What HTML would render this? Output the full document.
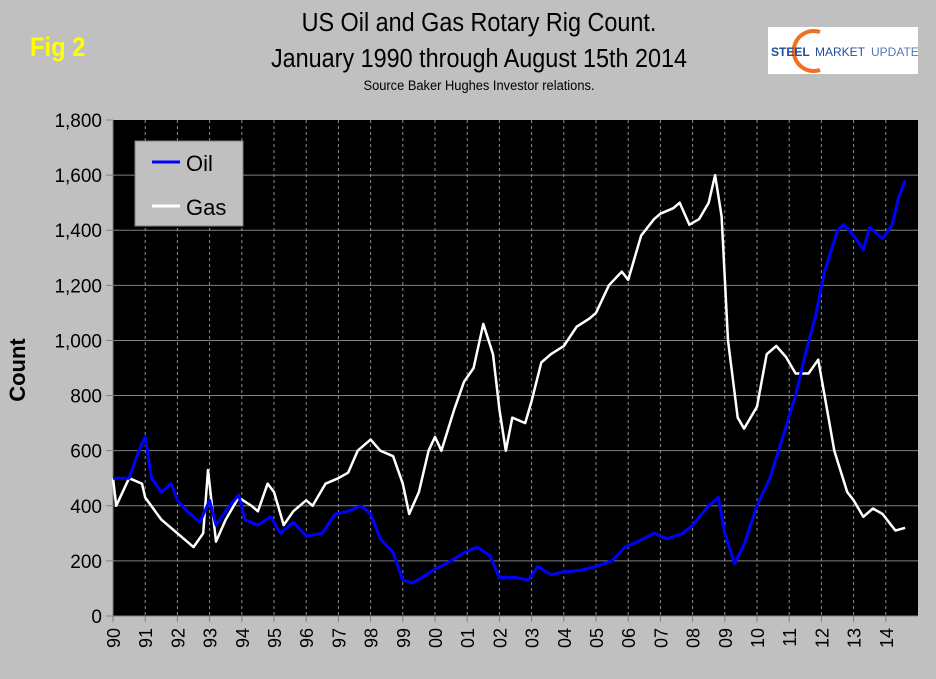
<!DOCTYPE html>
<html><head><meta charset="utf-8"><style>
body{margin:0;background:#c0c0c0;}
svg text{font-family:"Liberation Sans",Arial,sans-serif;}
</style></head><body>
<svg width="936" height="674" viewBox="0 0 936 674">
<rect x="0" y="0" width="936" height="674" fill="#c0c0c0"/>
<text x="30" y="56" font-size="27" font-weight="bold" fill="#ffff00" transform="translate(30,0) scale(0.88,1) translate(-30,0)">Fig 2</text>
<text x="479" y="31" font-size="26" text-anchor="middle" fill="#000" transform="translate(479,0) scale(0.9,1) translate(-479,0)">US Oil and Gas Rotary Rig Count.</text>
<text x="479" y="67" font-size="26" text-anchor="middle" fill="#000" transform="translate(479,0) scale(0.9,1) translate(-479,0)">January 1990 through August 15th 2014</text>
<text x="479" y="90" font-size="14" text-anchor="middle" fill="#000" transform="translate(479,0) scale(0.92,1) translate(-479,0)">Source Baker Hughes Investor relations.</text>
<g>
<rect x="768" y="27" width="150" height="47" fill="#fff"/>
<path d="M820 32 A20 20 0 1 0 820 70" fill="none" stroke="#f07020" stroke-width="4"/>
<text x="771" y="56" font-size="12" font-weight="bold" fill="#1f4e9a">STEEL</text>
<text x="815" y="56" font-size="12" fill="#1f4e9a">MARKET</text>
<text x="871" y="56" font-size="12" fill="#5577bb">UPDATE</text>
</g>
<rect x="113" y="120" width="805" height="496" fill="#000"/>
<g id="grid"></g>
<g id="axes"></g>
<text x="0" y="0" font-size="22" font-weight="bold" fill="#000" text-anchor="middle" transform="translate(25,370) rotate(-90)">Count</text>
<g id="series"></g>
<g>
<rect x="135" y="141" width="108" height="85" fill="#c0c0c0" stroke="#808080"/>
<line x1="152" y1="162" x2="180" y2="162" stroke="#0000ff" stroke-width="3"/>
<text x="186" y="171" font-size="22" fill="#000">Oil</text>
<line x1="152" y1="206" x2="180" y2="206" stroke="#fff" stroke-width="3"/>
<text x="186" y="215" font-size="22" fill="#000">Gas</text>
</g>
</svg>
<script>
const yTicks=[0,200,400,600,800,1000,1200,1400,1600,1800];
const yTickLabels=["0","200","400","600","800","1,000","1,200","1,400","1,600","1,800"];
const xYearLabels=["90","91","92","93","94","95","96","97","98","99","00","01","02","03","04","05","06","07","08","09","10","11","12","13","14"];
const gasDates=[1990.0,1990.1,1990.5,1990.9,1991.0,1991.5,1992.0,1992.5,1992.8,1992.95,1993.2,1993.5,1993.9,1994.3,1994.5,1994.8,1995.0,1995.3,1995.6,1996.0,1996.2,1996.6,1997.0,1997.3,1997.6,1998.0,1998.3,1998.7,1999.0,1999.2,1999.5,1999.8,2000.0,2000.2,2000.6,2000.9,2001.2,2001.5,2001.8,2002.0,2002.2,2002.4,2002.8,2003.0,2003.3,2003.6,2004.0,2004.4,2004.8,2005.0,2005.4,2005.8,2006.0,2006.4,2006.8,2007.0,2007.4,2007.6,2007.9,2008.2,2008.5,2008.7,2008.9,2009.1,2009.4,2009.6,2010.0,2010.3,2010.6,2010.9,2011.2,2011.6,2011.9,2012.1,2012.4,2012.8,2013.0,2013.3,2013.6,2013.9,2014.1,2014.3,2014.6];
const gasValues=[500,400,500,480,430,350,300,250,300,530,270,350,430,400,380,480,450,330,380,420,400,480,500,520,600,640,600,580,480,370,450,600,650,600,750,850,900,1060,950,750,600,720,700,780,920,950,980,1050,1080,1100,1200,1250,1220,1380,1440,1460,1480,1500,1420,1440,1500,1600,1450,1000,720,680,760,950,980,940,880,880,930,800,600,450,420,360,390,370,340,310,320];
const oilDates=[1990.0,1990.5,1990.8,1991.0,1991.2,1991.5,1991.8,1992.0,1992.3,1992.7,1993.0,1993.2,1993.5,1993.9,1994.1,1994.5,1994.9,1995.2,1995.6,1996.0,1996.5,1996.9,1997.3,1997.7,1998.0,1998.3,1998.7,1999.0,1999.3,1999.6,2000.0,2000.5,2000.9,2001.3,2001.7,2002.0,2002.5,2002.9,2003.2,2003.6,2004.0,2004.5,2005.0,2005.5,2005.9,2006.3,2006.8,2007.2,2007.7,2008.0,2008.5,2008.8,2009.0,2009.3,2009.6,2010.0,2010.4,2010.8,2011.2,2011.5,2011.8,2012.1,2012.5,2012.7,2013.0,2013.3,2013.5,2013.9,2014.2,2014.4,2014.6];
const oilValues=[500,500,600,650,500,450,480,420,380,340,420,330,380,440,350,330,360,300,340,290,300,370,380,400,370,280,230,130,120,140,170,200,230,250,220,140,140,130,180,150,160,165,180,200,250,270,300,280,300,330,400,430,300,190,260,400,500,650,800,950,1080,1250,1400,1420,1380,1330,1410,1370,1420,1520,1580];
const NS="http://www.w3.org/2000/svg";
const L=113,R=918,T=120,B=616,X0=1990,X1=2015,YMAX=1800;
function xs(d){return L+(d-X0)/(X1-X0)*(R-L);}
function ys(v){return B-v/YMAX*(B-T);}
function mk(tag,attrs,parent){const e=document.createElementNS(NS,tag);for(const k in attrs)e.setAttribute(k,attrs[k]);parent.appendChild(e);return e;}
const grid=document.getElementById('grid'),axes=document.getElementById('axes'),series=document.getElementById('series');
yTicks.forEach((v,i)=>{
  const y=ys(v);
  if(v>0&&v<YMAX){const g=mk('line',{x1:L,x2:R,y1:y,y2:y,stroke:'#808080','stroke-width':1},grid);
  
  }
  const t=mk('line',{x1:L-7,x2:L,y1:y,y2:y,stroke:'#808080','stroke-width':1},axes);
  
  
  const lb=mk('text',{x:L-11,y:y+7,'font-size':19,'text-anchor':'end',fill:'#000'},axes);
  lb.textContent=yTickLabels[i];
  
  
});
xYearLabels.forEach((s,i)=>{
  const x=xs(X0+i);
  if(i>0){const g=mk('line',{x1:x,x2:x,y1:T,y2:B,stroke:'#909090','stroke-width':1,'stroke-dasharray':'3,3'},grid);
  
  }
  const t=mk('line',{x1:x,x2:x,y1:B,y2:B+6,stroke:'#808080'},axes);
  
  
  const lb=mk('text',{x:0,y:0,'font-size':18,'text-anchor':'end',fill:'#000',transform:`translate(${x+7},${B+12}) rotate(-90)`},axes);
  lb.textContent=s;
  
  
});
mk('line',{x1:L,x2:L,y1:T,y2:B,stroke:'#808080'},axes);
mk('line',{x1:L,x2:R,y1:B,y2:B,stroke:'#808080'},axes);
function path(dates,vals){return dates.map((d,i)=>(i?'L':'M')+xs(d).toFixed(1)+' '+ys(vals[i]).toFixed(1)).join(' ');}
const gp=mk('path',{d:path(gasDates,gasValues),fill:'none',stroke:'#fff','stroke-width':2.5,'stroke-linejoin':'round'},series);


const op=mk('path',{d:path(oilDates,oilValues),fill:'none',stroke:'#0000ff','stroke-width':3,'stroke-linejoin':'round'},series);


</script>
</body></html>
